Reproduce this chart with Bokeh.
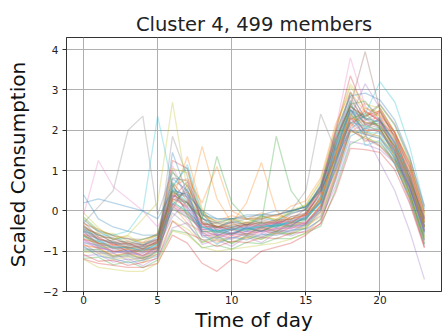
from bokeh.plotting import figure
from bokeh.embed import file_html
from bokeh.resources import INLINE
from bokeh.models import FixedTicker, Range1d

hours = list(range(24))

core_profiles = [
    [-0.42,-0.71,-0.93,-0.88,-1.02,-0.79,0.52,0.11,-0.48,-0.39,-0.57,-0.41,-0.52,-0.3,-0.37,-0.12,0.21,1.42,2.51,2.05,2.31,1.66,0.92,-0.35],
    [-0.87,-0.92,-1.13,-1.05,-1.21,-1.08,0.15,-0.31,-0.52,-0.78,-0.61,-0.69,-0.48,-0.58,-0.39,-0.44,-0.05,0.92,2.18,1.71,2.02,1.31,0.41,-0.66],
    [-0.15,-0.48,-0.61,-0.82,-0.71,-0.58,0.95,0.62,-0.05,-0.28,-0.19,-0.36,-0.12,-0.25,-0.02,0.12,0.55,1.88,2.92,2.31,2.62,2.12,1.25,-0.05],
    [-0.71,-0.79,-1.02,-0.95,-1.12,-0.86,0.31,0.72,-0.31,-0.62,-0.45,-0.58,-0.39,-0.51,-0.28,-0.31,0.12,1.02,2.08,2.49,2.21,1.88,0.81,-0.22],
    [-1.12,-1.08,-1.27,-1.19,-1.36,-1.15,-0.42,-0.29,-0.83,-0.72,-0.88,-0.65,-0.79,-0.55,-0.62,-0.49,-0.21,0.62,1.72,1.65,1.52,1.18,0.22,-0.85],
    [-0.35,-0.72,-0.74,-0.91,-0.84,-0.72,0.71,0.25,-0.38,-0.41,-0.29,-0.47,-0.31,-0.38,-0.14,-0.05,0.38,1.61,2.68,2.12,2.18,1.52,0.62,-0.52],
    [-0.58,-0.86,-0.84,-1.01,-0.95,-0.96,1.12,0.31,-0.45,-0.51,-0.62,-0.38,-0.49,-0.33,-0.36,-0.12,0.28,1.15,2.22,2.68,2.35,1.95,1.12,-0.18],
    [-0.95,-1.01,-1.16,-1.12,-1.25,-0.98,-0.05,-0.35,-0.72,-0.68,-0.79,-0.61,-0.66,-0.49,-0.55,-0.35,-0.02,1.18,2.55,1.92,1.85,1.15,0.35,-0.75],
    [-0.05,-0.42,-0.71,-0.62,-0.82,-0.59,0.42,0.15,-0.18,-0.41,-0.22,-0.31,-0.15,-0.21,-0.05,0.15,0.72,2.01,3.08,2.55,2.45,1.82,1.05,-0.15],
    [-0.79,-0.85,-1.05,-0.98,-1.15,-0.9,0.62,1.08,-0.15,-0.61,-0.48,-0.59,-0.42,-0.52,-0.35,-0.38,0.08,1.25,2.35,2.02,2.28,1.55,0.75,-0.52],
    [-0.52,-0.81,-0.79,-1.02,-0.93,-0.91,1.45,0.42,-0.52,-0.48,-0.59,-0.42,-0.51,-0.36,-0.38,-0.15,0.25,1.48,2.42,1.95,2.05,1.42,0.55,-0.62],
    [-0.68,-0.82,-1.01,-0.94,-1.11,-0.88,0.28,1.35,0.05,-0.52,-0.42,-0.58,-0.41,-0.45,-0.31,-0.29,0.15,1.35,2.15,2.55,2.38,1.95,1.05,-0.25],
    [-1.18,-1.15,-1.34,-1.25,-1.41,-1.22,-0.48,-0.55,-0.92,-0.85,-0.95,-0.78,-0.82,-0.68,-0.69,-0.55,-0.38,0.52,1.65,1.85,1.62,1.25,0.45,-0.82],
    [-0.48,-0.65,-0.85,-0.79,-0.95,-0.75,0.18,-0.08,-0.41,-0.38,-0.48,-0.35,-0.42,-0.28,-0.31,-0.05,0.58,1.95,3.35,2.45,2.25,1.48,0.45,-0.72],
    [-0.82,-1.05,-1.05,-1.22,-1.16,-1.08,0.38,0.05,-0.62,-0.59,-0.68,-0.55,-0.61,-0.45,-0.52,-0.32,0.05,1.05,2.32,3.15,2.55,1.95,0.95,-0.28],
    [-0.28,-0.65,-0.66,-0.85,-0.79,-0.71,0.82,0.75,-0.08,-0.41,-0.28,-0.35,-0.22,-0.31,-0.08,0.05,0.52,1.72,2.75,2.25,2.45,1.85,1.08,-0.18],
    [-0.75,-0.86,-1.05,-0.99,-1.12,-0.92,0.18,-0.21,-0.62,-0.58,-0.68,-0.51,-0.56,-0.42,-0.45,-0.25,0.05,1.22,2.05,2.25,2.32,1.75,0.95,-0.15],
    [-0.62,-0.75,-0.95,-0.91,-1.05,-0.85,1.85,0.85,-0.28,-0.55,-0.41,-0.51,-0.36,-0.41,-0.25,-0.18,0.35,1.55,2.62,2.15,2.05,1.35,0.52,-0.58],
    [-1.02,-1.05,-1.21,-1.15,-1.29,-1.05,-0.25,-0.45,-0.78,-0.71,-0.79,-0.66,-0.71,-0.55,-0.58,-0.38,-0.15,0.85,1.95,1.95,1.85,1.32,0.38,-0.62],
    [-0.45,-0.75,-0.76,-0.95,-0.89,-0.81,0.58,1.15,-0.05,-0.51,-0.38,-0.45,-0.3,-0.41,-0.21,-0.18,0.35,1.52,2.48,1.95,1.92,1.28,0.35,-0.72],
    [-0.22,-0.51,-0.7,-0.68,-0.85,-0.65,0.55,0.35,-0.18,-0.41,-0.25,-0.35,-0.18,-0.26,-0.05,0.02,0.65,1.82,2.85,2.92,2.75,2.25,1.35,0.05],
    [-0.85,-0.91,-1.1,-1.04,-1.16,-0.95,0.05,-0.15,-0.45,-0.65,-0.55,-0.6,-0.45,-0.51,-0.35,-0.33,0.15,1.28,2.35,1.85,2.55,1.95,1.15,-0.12],
    [-0.61,-0.89,-0.91,-1.05,-0.98,-0.94,0.25,-0.05,-0.51,-0.52,-0.58,-0.45,-0.5,-0.36,-0.4,-0.22,0.25,1.38,2.65,2.72,2.25,1.72,0.82,-0.42],
    [-1.08,-1.25,-1.22,-1.35,-1.28,-1.18,-0.25,-0.55,-0.71,-0.89,-0.75,-0.79,-0.66,-0.69,-0.55,-0.52,-0.32,0.45,1.55,1.52,1.45,1.02,0.18,-0.92],
    [-0.51,-0.84,-0.88,-0.99,-0.97,-0.92,0.35,0.45,-0.45,-0.46,-0.55,-0.42,-0.45,-0.31,-0.35,-0.18,0.22,1.62,2.95,2.28,2.05,1.48,0.58,-0.48],
    [-0.45,-0.56,-0.79,-0.82,-0.94,-0.76,0.05,0.65,-0.25,-0.45,-0.35,-0.39,-0.26,-0.34,-0.15,-0.08,0.45,1.38,2.18,2.35,2.65,2.15,1.32,0.12],
    [-0.72,-0.95,-0.92,-1.04,-1.01,-0.98,0.65,0.05,-0.55,-0.56,-0.61,-0.51,-0.55,-0.41,-0.44,-0.28,-0.02,0.98,1.98,2.15,1.95,1.52,0.68,-0.38],
    [-0.92,-0.98,-1.14,-1.11,-1.19,-0.98,0.45,0.35,-0.65,-0.66,-0.71,-0.56,-0.65,-0.5,-0.49,-0.32,0.05,1.22,2.45,2.18,2.15,1.58,0.82,-0.48],
    [-0.18,-0.55,-0.56,-0.75,-0.71,-0.62,1.05,0.95,-0.02,-0.35,-0.18,-0.29,-0.12,-0.21,0.02,0.15,0.75,2.05,3.15,2.65,2.55,1.95,1.22,-0.08],
    [-0.65,-0.76,-0.89,-0.92,-0.99,-0.82,0.05,-0.15,-0.4,-0.55,-0.45,-0.5,-0.35,-0.4,-0.25,-0.22,0.35,1.65,2.72,1.62,1.75,1.15,0.32,-0.82],
    [-0.88,-1.12,-1.18,-1.29,-1.22,-1.12,0.15,0.55,-0.58,-0.82,-0.65,-0.72,-0.58,-0.61,-0.48,-0.45,-0.22,0.75,1.85,2.05,1.95,1.45,0.62,-0.55],
    [-0.32,-0.45,-0.62,-0.68,-0.78,-0.55,0.25,0.48,-0.12,-0.25,-0.12,-0.21,-0.05,-0.15,0.12,0.25,0.82,2.15,2.95,2.45,2.35,1.78,0.95,-0.25],
    [-0.98,-0.95,-1.12,-1.08,-1.18,-1.02,0.68,-0.12,-0.78,-0.62,-0.82,-0.62,-0.7,-0.52,-0.58,-0.42,0.02,1.12,2.28,2.42,2.05,1.38,0.45,-0.68],
    [-0.58,-0.68,-0.82,-0.92,-0.88,-0.78,1.25,1.05,-0.32,-0.38,-0.48,-0.32,-0.38,-0.25,-0.28,-0.1,0.45,1.75,2.58,2.35,2.48,1.92,1.18,-0.02],
    [-0.78,-0.92,-0.98,-1.08,-1.05,-0.92,-0.15,0.25,-0.55,-0.68,-0.55,-0.62,-0.49,-0.55,-0.42,-0.35,-0.12,0.85,2.02,1.75,1.68,1.25,0.55,-0.45],
    [-0.38,-0.59,-0.78,-0.75,-0.86,-0.7,0.48,-0.02,-0.35,-0.3,-0.42,-0.28,-0.35,-0.21,-0.22,0.05,0.62,1.95,2.85,2.15,2.25,1.65,0.72,-0.38],
]

outlier_profiles = [
    [-0.1,1.25,0.6,0.3,0.0,-0.4,0.4,0.2,-0.3,-0.4,-0.35,-0.3,-0.3,-0.25,-0.2,-0.1,0.3,1.4,2.3,2.0,2.0,1.5,0.6,-0.5],
    [-0.3,0.1,0.5,2.0,2.35,-0.1,1.0,0.3,-0.2,-0.3,-0.2,-0.2,-0.15,-0.1,0.0,0.1,0.5,1.5,2.5,2.2,2.1,1.6,0.7,-0.3],
    [-0.4,-0.6,-0.7,-0.6,-0.2,0.2,2.7,0.5,-0.3,-0.4,-0.35,-0.3,-0.3,-0.25,-0.2,-0.1,0.3,1.3,2.4,2.1,2.0,1.6,0.8,-0.3],
    [-0.5,-0.6,-0.6,-0.5,0.0,2.35,0.6,0.2,-0.4,-0.5,-0.45,-0.4,-0.4,-0.35,-0.3,-0.2,0.2,1.2,2.2,2.1,2.0,1.5,0.7,-0.4],
    [0.2,0.3,0.2,0.1,0.0,-0.2,0.5,0.4,0.0,-0.2,-0.2,-0.1,-0.1,0.0,0.0,0.1,0.5,1.3,2.0,1.9,1.8,1.3,0.6,-0.5],
    [-0.6,-0.8,-0.9,-0.95,-1.0,-0.9,0.3,0.1,1.6,0.3,-0.3,0.2,1.2,0.0,-0.3,-0.2,0.3,1.4,2.3,2.2,2.1,1.6,0.8,-0.4],
    [-0.5,-0.7,-0.8,-0.85,-0.9,-0.8,0.5,0.2,-0.2,1.35,0.2,-0.2,-0.3,1.85,0.5,0.0,0.6,1.7,2.6,2.3,2.1,1.6,0.7,-0.4],
    [-1.2,-1.3,-1.35,-1.4,-1.4,-1.3,-0.6,-0.8,-1.3,-1.5,-1.2,-1.3,-1.0,-0.9,-0.8,-0.6,-0.3,0.8,2.0,1.8,1.6,1.2,0.3,-0.9],
    [-0.7,-0.9,-1.0,-1.05,-1.1,-1.0,0.1,-0.1,-0.5,-0.6,-0.55,-0.5,-0.5,-0.45,-0.4,-0.3,0.1,1.2,2.3,1.9,1.2,0.5,-0.5,-1.7],
    [-0.4,-0.6,-0.7,-0.8,-0.85,-0.75,0.4,0.2,-0.3,-0.4,-0.4,-0.35,-0.3,-0.3,-0.2,-0.1,0.5,1.8,2.6,3.95,2.5,1.8,0.9,-0.3],
    [-0.5,-0.7,-0.8,-0.85,-0.9,-0.8,0.3,0.1,-0.35,-0.45,-0.45,-0.4,-0.35,-0.3,-0.25,-0.1,0.6,2.0,3.8,2.6,2.2,1.6,0.7,-0.5],
    [-0.3,-0.5,-0.6,-0.7,-0.7,-0.6,0.3,0.2,-0.2,-0.3,-0.3,-0.2,-0.2,-0.1,0.0,0.5,2.4,1.5,2.2,1.9,1.8,1.4,0.6,-0.4],
    [-1.2,-1.4,-1.45,-1.5,-1.5,-1.3,-0.5,-0.6,-0.9,-1.0,-0.95,-0.9,-0.85,-0.8,-0.7,-0.55,-0.2,0.9,2.0,1.8,1.7,1.2,0.3,-0.8],
    [-0.6,-0.8,-0.9,-0.9,-0.95,-0.85,0.2,0.0,-0.4,-0.5,-0.45,-0.45,-0.4,-0.35,-0.3,-0.2,0.2,1.0,2.0,2.4,3.2,2.7,1.6,0.1],
    [0.4,-0.2,-0.4,-0.5,-0.6,-0.6,0.8,0.5,-0.1,-0.2,-0.2,-0.15,-0.1,-0.1,0.0,0.1,0.6,1.6,2.5,2.3,2.2,1.7,0.8,-0.2],
    [-0.6,-0.8,-0.85,-0.9,-0.95,-0.8,0.6,0.8,0.2,1.1,0.0,-0.2,-0.2,-0.1,-0.2,-0.1,0.3,1.4,2.4,2.0,2.0,1.5,0.7,-0.4],
]

palette = ["#1f77b4", "#ff7f0e", "#2ca02c", "#d62728", "#9467bd",
           "#8c564b", "#e377c2", "#7f7f7f", "#bcbd22", "#17becf"]

title_text = "Cluster 4, 499 members"
x_label = "Time of day"
y_label = "Scaled Consumption"
x_ticks = [0, 5, 10, 15, 20]
y_ticks = [-2, -1, 0, 1, 2, 3, 4]

p = figure(width=442, height=334, output_backend="svg", toolbar_location=None,
           x_range=Range1d(-1.15, 24.15), y_range=Range1d(-2.0, 4.3),
           min_border_left=66, min_border_right=1, min_border_top=37, min_border_bottom=43)

p.title.text = title_text
p.title.align = "center"
p.title.text_font = "DejaVu Sans"
p.title.text_font_size = "19.5px"
p.title.text_font_style = "normal"
p.title.text_color = "#222222"
p.title.standoff = 3

p.outline_line_color = "#333333"
p.outline_line_width = 1
p.background_fill_color = "white"
p.border_fill_color = "white"

all_profiles = core_profiles + outlier_profiles
for i, prof in enumerate(all_profiles):
    p.line(hours, prof, line_color=palette[i % 10], line_alpha=0.3, line_width=1.3)

for ax in (p.xaxis, p.yaxis):
    ax.major_label_text_font = "DejaVu Sans"
    ax.major_label_text_font_size = "10.5px"
    ax.major_label_text_color = "#222222"
    ax.axis_label_text_font = "DejaVu Sans"
    ax.axis_label_text_font_size = "20px"
    ax.axis_label_text_font_style = "normal"
    ax.axis_label_text_color = "#111111"
    ax.axis_line_color = "#333333"
    ax.major_tick_line_color = "#333333"
    ax.major_tick_out = 4
    ax.major_tick_in = 0
    ax.minor_tick_line_color = None

p.xaxis.axis_label = x_label
p.yaxis.axis_label = y_label
p.xaxis.ticker = FixedTicker(ticks=x_ticks)
p.yaxis.ticker = FixedTicker(ticks=y_ticks)
p.xaxis.major_label_standoff = 0
p.xaxis.axis_label_standoff = 1
p.yaxis.major_label_standoff = 4
p.yaxis.axis_label_standoff = 10

p.xgrid.ticker = FixedTicker(ticks=x_ticks)
p.ygrid.ticker = FixedTicker(ticks=y_ticks)
p.grid.grid_line_color = "#b0b0b0"
p.grid.grid_line_alpha = 1.0
p.grid.grid_line_width = 1

open("out.html", "w").write(file_html(p, INLINE))
